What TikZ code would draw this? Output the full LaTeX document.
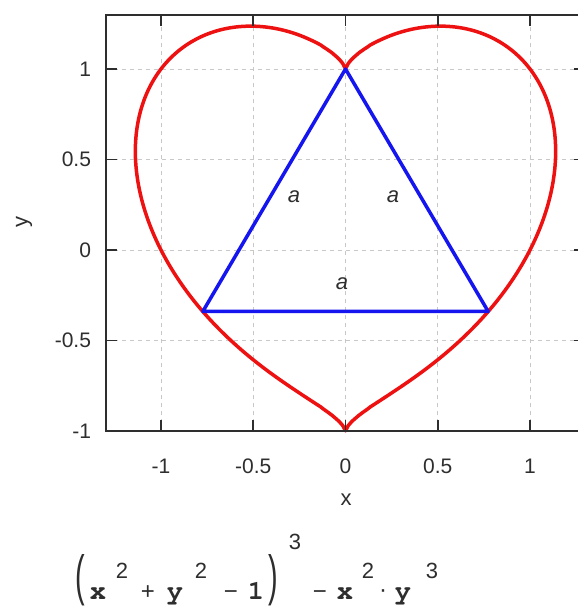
\documentclass[tikz,border=0pt]{standalone}
\usepackage{fontspec}
\usepackage{graphicx}
\setmainfont{Liberation Sans}
\newfontfamily\monofam{texgyrecursor-bold.otf}
\definecolor{heartred}{HTML}{EE1111}
\definecolor{triblue}{HTML}{1515F0}
\definecolor{ink}{HTML}{2E2E2E}
\definecolor{gridc}{HTML}{C8C8C8}
\tikzset{
  ticklab/.style={text=ink, font=\fontsize{21}{21}\selectfont, inner sep=0pt},
  axlab/.style={text=ink, font=\fontsize{22}{22}\selectfont, inner sep=0pt},
  gridline/.style={gridc, line width=0.9pt, dash pattern=on 4pt off 4pt},
  frameline/.style={line width=1.8pt, draw=ink},
  tickmark/.style={line width=1.8pt, draw=ink},
  heart/.style={heartred, line width=3.5pt, line join=round},
  tri/.style={triblue, line width=3.5pt, line join=round},
  alab/.style={font=\fontsize{22}{22}\selectfont\itshape, text=ink, inner sep=0pt},
  monoch/.style={font=\fontsize{27}{27}\selectfont\monofam, text=ink, inner sep=0pt, anchor=base},
  supch/.style={font=\fontsize{22}{22}\selectfont, text=ink, inner sep=0pt, anchor=base},
  opch/.style={font=\fontsize{24}{24}\selectfont, text=ink, inner sep=0pt, anchor=base},
  parch/.style={font=\fontsize{24}{24}\selectfont, text=ink, inner sep=0pt, anchor=center},
}
\begin{document}
\begin{tikzpicture}[x=1pt,y=-1pt,
  declare function={
    hx(\t)=1.13903*sin(\t);
    hp(\t)=pow(abs(hx(\t))+0.0001,2/3);
    hd(\t)=sqrt(max(pow(abs(hx(\t))+0.0001,4/3)-4*hx(\t)*hx(\t)+4,0));
    hyu(\t)=(hp(\t)+hd(\t))/2;
    hyl(\t)=(hp(\t)-hd(\t))/2;
  }]
\useasboundingbox (0,0) rectangle (578,606);
\fill[white] (0,0) rectangle (578,606);
\begin{scope}
\clip (0,0) rectangle (578,606);
\begin{scope}[shift={(345.5,250)}, x=184.5pt, y=181pt]
  % grid
  \foreach \g in {-1,-0.5,0,0.5,1} \draw[gridline] (\g,-1) -- (\g,1.3);
  \foreach \g in {-0.5,0,0.5,1} \draw[gridline] (-1.3,\g) -- (1.3,\g);
  % heart curve
  \draw[heart] plot[domain=-90:90, samples=241, variable=\t] ({hx(\t)},{hyu(\t)})
     -- plot[domain=90:-90, samples=241, variable=\t] ({hx(\t)},{hyl(\t)}) -- cycle;
  % triangle
  \coordinate (T) at (0,1);
  \coordinate (L) at (-0.7735,-0.3397);
  \coordinate (R) at (0.7735,-0.3397);
  \draw[tri] (T) -- (R) -- (L) -- cycle;
  % frame
  \coordinate (BL) at (-1.3,-1);
  \coordinate (TL) at (-1.3,1.3);
  \coordinate (TR) at (1.3,1.3);
  \coordinate (BR) at (1.3,-1);
  \draw[frameline] (TR) -- (TL) -- (BL) -- (BR) -- cycle;
  % ticks
  \foreach \g in {-1,-0.5,0,0.5,1} {
    \draw[tickmark] (\g,-1) -- ++(0pt,11pt);
    \draw[tickmark] (\g,1.3) -- ++(0pt,-11pt);
  }
  \foreach \g in {-0.5,0,0.5,1} {
    \draw[tickmark] (-1.3,\g) -- ++(11pt,0pt);
    \draw[tickmark] (1.3,\g) -- ++(-11pt,0pt);
  }
  % tick labels
  \foreach \g/\t/\n in {-1/-1/a,-0.5/-0.5/b,0/0/c,0.5/0.5/d,1/1/e}
    \node[ticklab] (xt\n) at ([yshift=-35pt]\g,-1) {\t};
  \foreach \g/\t/\n in {-1/-1/a,-0.5/-0.5/b,0/0/c,0.5/0.5/d,1/1/e}
    \node[ticklab, anchor=east] (yt\n) at ([xshift=-14.5pt]-1.3,\g) {\t};
\end{scope}
% side labels
\node[alab] (a1) at (294,197) {a};
\node[alab] (a2) at (393,197) {a};
\node[alab] (a3) at (342,284) {a};
% axis labels
\node[axlab] (xlab) at (346,500) {x};
\node[axlab, rotate=90] (ylab) at (24,222) {y};
% formula
\node[parch] (f1) at (80,580) {\scalebox{1.2}[2.3]{(}};
\node[monoch] (f2) at (98,599) {x};
\node[supch] (f3) at (122,578) {2};
\node[opch] (f4) at (148,599) {+};
\node[monoch] (f5) at (175,599) {y};
\node[supch] (f6) at (201,578) {2};
\node[opch] (f7) at (231,599) {−};
\node[monoch] (f8) at (256,599) {1};
\node[parch] (f9) at (273,580) {\scalebox{1.2}[2.3]{)}};
\node[supch] (f10) at (295,549) {3};
\node[opch] (f11) at (320,599) {−};
\node[monoch] (f12) at (345,599) {x};
\node[supch] (f13) at (368,578) {2};
\node[opch] (f14) at (383,597) {·};
\node[monoch] (f15) at (403,599) {y};
\node[supch] (f16) at (432,578) {3};
\end{scope}
\end{tikzpicture}
\end{document}
